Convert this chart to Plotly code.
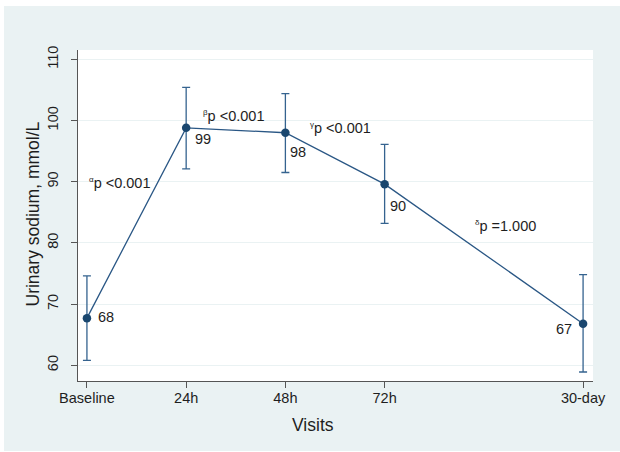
import plotly.graph_objects as go

# ---- data ----
visit_labels = ["Baseline", "24h", "48h", "72h", "30-day"]
visit_pos = [0, 1, 2, 3, 5]
mean_sodium = [67.7, 98.8, 98.0, 89.6, 66.8]
upper_ci = [74.6, 105.4, 104.4, 96.1, 74.8]
lower_ci = [60.8, 92.1, 91.5, 83.2, 58.9]
y_ticks = [60, 70, 80, 90, 100, 110]
p_texts = ["α", "β", "γ", "δ"]
p_values = ["&lt;0.001", "&lt;0.001", "&lt;0.001", "=1.000"]

# ---- style / placement constants ----
NAVY = "#1a476f"
LINE = "#2a5785"
ERR = "#35638f"
BG = "#eaf2f3"
TXT = "#1e1e1e"
FONT = "Liberation Sans, Arial, sans-serif"
W, H = 620, 452
L, R, T, B = 78, 27, 50, 71
label_offsets = [  # (xanchor, xshift, yshift)
    ("left", 8.7, 1),
    ("left", 7, -11.3),
    ("left", 3, -19.3),
    ("left", 3.3, -22),
    ("right", -9.3, -5.3),
]
p_anchor = [(0.0, 89.74), (1.154, 100.7), (2.226, 98.76), (3.886, 82.68)]

err_plus = [u - m for u, m in zip(upper_ci, mean_sodium)]
err_minus = [m - l for m, l in zip(mean_sodium, lower_ci)]

fig = go.Figure()
fig.add_trace(go.Scatter(
    x=visit_pos, y=mean_sodium, mode="lines+markers",
    line=dict(color=LINE, width=1.3),
    marker=dict(color=NAVY, size=8.5),
    error_y=dict(type="data", symmetric=False, array=err_plus,
                 arrayminus=err_minus, color=ERR, thickness=1.3, width=4),
    showlegend=False, hoverinfo="skip",
))

ann = []
for xv, yv, (xa, xs, ys) in zip(visit_pos, mean_sodium, label_offsets):
    ann.append(dict(x=xv, y=yv, xref="x", yref="y", text=f"{round(yv)}",
                    showarrow=False, xanchor=xa, yanchor="middle",
                    xshift=xs, yshift=ys,
                    font=dict(family=FONT, size=14.5, color=TXT)))
for g, pv, (ax, ay) in zip(p_texts, p_values, p_anchor):
    ann.append(dict(x=ax, y=ay, xref="x", yref="y",
                    text=f"<sup><span style='font-size:8px'>{g}</span></sup>p {pv}",
                    showarrow=False, xanchor="left", yanchor="middle",
                    font=dict(family=FONT, size=14.5, color=TXT)))

pw, ph = W - L - R, H - T - B
ann.append(dict(text="Visits", xref="paper", yref="paper",
                x=(312.7 - L) / pw, y=(H - B - 425) / ph,
                showarrow=False, xanchor="center", yanchor="middle",
                font=dict(family=FONT, size=17.5, color=TXT)))
ann.append(dict(text="Urinary sodium, mmol/L", xref="paper", yref="paper",
                x=(32.5 - L) / pw, y=(H - B - 214) / ph, textangle=-90,
                showarrow=False, xanchor="center", yanchor="middle",
                font=dict(family=FONT, size=17.5, color=TXT)))

shapes = [
    dict(type="rect", xref="paper", yref="paper", layer="below",
         x0=(4 - L) / pw, x1=(W + 2 - L) / pw,
         y0=(H - B - 451) / ph, y1=(H - B - 6) / ph,
         fillcolor=BG, line=dict(width=0)),
    dict(type="rect", xref="paper", yref="paper", layer="below",
         x0=0, x1=1, y0=0, y1=1, fillcolor="white", line=dict(width=0)),
]

fig.update_layout(
    width=W, height=H,
    margin=dict(l=L, r=R, t=T, b=B),
    paper_bgcolor="white", plot_bgcolor="white",
    font=dict(family=FONT, size=14.5, color=TXT),
    annotations=ann, shapes=shapes,
    xaxis=dict(range=[-0.09, 5.1], tickvals=visit_pos, ticktext=visit_labels,
               showgrid=False, zeroline=False, showline=True,
               linecolor="#555555", linewidth=1, ticks="outside",
               ticklen=6, tickcolor="#555555", tickwidth=1,
               ticklabelstandoff=-2,
               tickfont=dict(family=FONT, size=14.5, color=TXT)),
    yaxis=dict(range=[57.43, 111.52], tickvals=y_ticks, tickangle=-90,
               showgrid=True, gridcolor=BG, gridwidth=1.2,
               zeroline=False, showline=True,
               linecolor="#555555", linewidth=1, ticks="outside",
               ticklen=6, tickcolor="#555555", tickwidth=1,
               ticklabelstandoff=7,
               tickfont=dict(family=FONT, size=14.5, color=TXT)),
)

fig.write_html(
    "out.html",
    config={"displayModeBar": False},
    post_script="document.body.style.margin='0';document.body.style.padding='0';",
)
